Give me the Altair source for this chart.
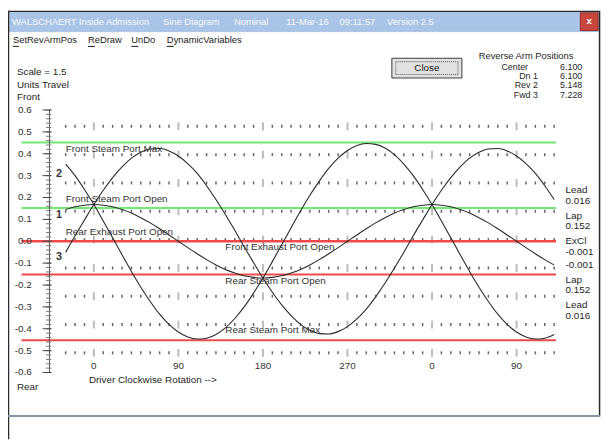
import altair as alt
import pandas as pd

# ---------------- data ----------------
theta = list(range(-30, 500, 10))  # crank angle, degrees

# curve 1 (Center / Dn 1)
curve1 = [0.145, 0.158, 0.165,
          0.168, 0.165, 0.158, 0.145, 0.129, 0.108, 0.084, 0.057, 0.029, 0.000,
          -0.029, -0.057, -0.084, -0.108, -0.129, -0.145, -0.158, -0.165, -0.168,
          -0.165, -0.158, -0.145, -0.129, -0.108, -0.084, -0.057, -0.029, 0.000,
          0.029, 0.057, 0.084, 0.108, 0.129, 0.145, 0.158, 0.165,
          0.168, 0.165, 0.158, 0.145, 0.129, 0.108, 0.084, 0.057, 0.029, 0.000,
          -0.029, -0.057, -0.084, -0.108]
# curve 2 (Rev 2)
curve2 = [0.353, 0.300, 0.237,
          0.168, 0.093, 0.016, -0.062, -0.138, -0.210, -0.275, -0.333, -0.380, -0.415,
          -0.438, -0.447, -0.443, -0.426, -0.396, -0.353, -0.300, -0.237, -0.168,
          -0.093, -0.016, 0.062, 0.138, 0.210, 0.275, 0.333, 0.380, 0.415,
          0.438, 0.447, 0.443, 0.426, 0.396, 0.353, 0.300, 0.237,
          0.168, 0.093, 0.016, -0.062, -0.138, -0.210, -0.275, -0.333, -0.380, -0.415,
          -0.438, -0.447, -0.443, -0.426]
# curve 3 (Fwd 3)
curve3 = [-0.050, 0.025, 0.097,
          0.168, 0.233, 0.291, 0.340, 0.380, 0.407, 0.422, 0.424, 0.413, 0.390,
          0.355, 0.310, 0.254, 0.191, 0.122, 0.050, -0.025, -0.097, -0.168,
          -0.233, -0.291, -0.340, -0.380, -0.407, -0.422, -0.424, -0.413, -0.390,
          -0.355, -0.310, -0.254, -0.191, -0.122, -0.050, 0.025, 0.097,
          0.168, 0.233, 0.291, 0.340, 0.380, 0.407, 0.422, 0.424, 0.413, 0.390,
          0.355, 0.310, 0.254, 0.191]
curve_names = ["1", "2", "3"]

# port event lines
line_values = [0.452, 0.152, 0.001, -0.001, -0.152, -0.452]
line_colors = ["#74e874", "#74e874", "#f04a4a", "#f04a4a", "#f04a4a", "#f04a4a"]
line_start, line_end = -77, 492
line_labels = ["Front Steam Port Max", "Front Steam Port Open", "Rear Exhaust Port Open",
               "Front Exhaust Port Open", "Rear Steam Port Open", "Rear Steam Port Max"]
label_theta = [-30, -30, -30, 140, 140, 140]
label_v = [0.423, 0.195, 0.042, -0.026, -0.181, -0.407]

# curve number labels
curve_label_theta = [-37, -37, -37]
curve_label_v = [0.120, 0.309, -0.074]

# dotted reference rows
row_values = [0.5255, 0.396, 0.2666, 0.137, 0.0077, -0.1218, -0.2512, -0.3807, -0.510]

# axes
y_ticks = [0.6, 0.5, 0.4, 0.3, 0.2, 0.1, 0.0, -0.1, -0.2, -0.3, -0.4, -0.5, -0.6]
y_tick_labels = ["0.6", "0.5", "0.4", "0.3", "0.2", "0.1", "0.0",
                 "-0.1", "-0.2", "-0.3", "-0.4", "-0.5", "-0.6"]
x_tick_values = [0, 90, 180, 270, 360, 450]
x_tick_labels = ["0", "90", "180", "270", "0", "90"]

arm_names = ["Center", "Dn 1", "Rev 2", "Fwd 3"]
arm_values = ["6.100", "6.100", "5.148", "7.228"]
side_labels = ["Lead", "0.016", "Lap", "0.152", "ExCl", "-0.001", "-0.001",
               "Lap", "0.152", "Lead", "0.016"]

title_parts = ["WALSCHAERT Inside Admission", "Sine Diagram", "Nominal",
               "11-Mar-16", "09:11:57", "Version 2.5"]
menu_items = ["SetRevArmPos", "ReDraw", "UnDo", "DynamicVariables"]

# ---------------- layout ----------------
W, H = 604, 434
FONT = "Liberation Sans"
xs = alt.Scale(domain=[-91.39, 543.07], nice=False, zero=False)
ys = alt.Scale(domain=[-0.9044, 1.0532], nice=False, zero=False)


def X(f):
    return alt.X(f, scale=xs, axis=None)


def Y(f):
    return alt.Y(f, scale=ys, axis=None)


def PX(f):
    return alt.X(f, scale=None, axis=None)


def PY(f):
    return alt.Y(f, scale=None, axis=None)


# ---- window chrome ----
rects = pd.DataFrame([
    dict(x=0, x2=599, y=1, y2=21, fill="#a9c4e6", stroke="#a9c4e6"),
    dict(x=580, x2=598, y=2, y2=20, fill="#c8463e", stroke="#9a2e28"),
    dict(x=389, x2=460, y=48, y2=68, fill="#e1e1e1", stroke="#3c3c3c"),
])
chrome_rect = alt.Chart(rects).mark_rect(strokeWidth=1).encode(
    x=PX("x:Q"), x2="x2:Q", y=PY("y:Q"), y2="y2:Q",
    fill=alt.Fill("fill:N", scale=None), stroke=alt.Stroke("stroke:N", scale=None))

focus = pd.DataFrame([dict(x=393, x2=456, y=51.5, y2=64.5)])
focus_rect = alt.Chart(focus).mark_rect(fill="transparent", stroke="#555", strokeDash=[1, 1],
                                        strokeWidth=1).encode(
    x=PX("x:Q"), x2="x2:Q", y=PY("y:Q"), y2="y2:Q")

borders = pd.DataFrame([
    dict(x=0.5, x2=0.5, y=0, y2=434, c="#2a2a2a", w=1.5),
    dict(x=0, x2=599, y=0.5, y2=0.5, c="#2a2a2a", w=1.5),
    dict(x=599.5, x2=599.5, y=0, y2=411, c="#2a2a2a", w=1.5),
    dict(x=0, x2=600, y=410.5, y2=410.5, c="#8797ab", w=2),
])
border_rules = alt.Chart(borders).mark_rule().encode(
    x=PX("x:Q"), x2="x2:Q", y=PY("y:Q"), y2="y2:Q",
    color=alt.Color("c:N", scale=None), strokeWidth=alt.StrokeWidth("w:Q", scale=None))

# ---- port lines ----
hl = pd.DataFrame({"v": line_values, "c": line_colors, "x0": line_start, "x1": line_end})
port_lines = alt.Chart(hl).mark_rule(strokeWidth=2).encode(
    x=X("x0:Q"), x2="x1:Q", y=Y("v:Q"), color=alt.Color("c:N", scale=None))

# ---- dotted rows ----
rows = pd.DataFrame([{"theta": t, "v": r, "major": (t % 90 == 0)}
                     for r in row_values for t in range(-30, 500, 10)])
row_minor = alt.Chart(rows).transform_filter("!datum.major").mark_tick(
    orient="vertical", size=3, thickness=1.5, color="#222").encode(x=X("theta:Q"), y=Y("v:Q"))
row_major = alt.Chart(rows).transform_filter("datum.major").mark_tick(
    orient="vertical", size=8, thickness=2, color="#a0a0a0").encode(x=X("theta:Q"), y=Y("v:Q"))

# ---- y ruler ----
ruler_df = pd.DataFrame({"v0": [0.6], "v1": [-0.6]})
ruler = alt.Chart(ruler_df).mark_rule(color="#555", strokeWidth=1).encode(
    x=alt.value(42), y=Y("v0:Q"), y2="v1:Q")
minor_v = [round(-0.6 + 0.02 * i, 2) for i in range(61)]
ruler_minor = alt.Chart(pd.DataFrame({"v": minor_v})).mark_rule(color="#777", strokeWidth=1).encode(
    x=alt.value(38.5), x2=alt.value(44), y=Y("v:Q"))
ruler_major = alt.Chart(pd.DataFrame({"v": y_ticks})).mark_rule(color="#444", strokeWidth=1).encode(
    x=alt.value(35), x2=alt.value(44), y=Y("v:Q"))
ylabels = alt.Chart(pd.DataFrame({"v": y_ticks, "t": y_tick_labels})).mark_text(
    align="right", baseline="middle", font=FONT, fontSize=10, color="#333").encode(
    x=alt.value(24), y=Y("v:Q"), text="t:N")

# ---- x labels ----
xlabels = alt.Chart(pd.DataFrame({"th": x_tick_values, "t": x_tick_labels})).mark_text(
    align="center", baseline="middle", font=FONT, fontSize=10, color="#333").encode(
    x=X("th:Q"), y=alt.value(360), text="t:N")

# ---- curves ----
curves = pd.DataFrame({
    "theta": theta * 3,
    "v": curve1 + curve2 + curve3,
    "curve": [curve_names[0]] * len(theta) + [curve_names[1]] * len(theta) + [curve_names[2]] * len(theta),
})
curve_lines = alt.Chart(curves).mark_line(color="#2a2a2a", strokeWidth=1.1, interpolate="monotone").encode(
    x=X("theta:Q"), y=Y("v:Q"), detail="curve:N")

curve_labels = alt.Chart(pd.DataFrame({"th": curve_label_theta, "v": curve_label_v, "t": curve_names})).mark_text(
    align="center", baseline="middle", font=FONT, fontSize=11, fontWeight="bold", color="#333").encode(
    x=X("th:Q"), y=Y("v:Q"), text="t:N")

port_labels = alt.Chart(pd.DataFrame({"th": label_theta, "v": label_v, "t": line_labels})).mark_text(
    align="left", baseline="middle", font=FONT, fontSize=10, color="#333").encode(
    x=X("th:Q"), y=Y("v:Q"), text="t:N")

# ---- pixel-placed UI texts ----
title_x = [4, 157, 229, 282, 336, 384]
title_df = pd.DataFrame({"x": title_x, "y": [11] * 6, "t": title_parts})
title_text = alt.Chart(title_df).mark_text(align="left", baseline="middle", font=FONT,
                                           fontSize=9.5, color="#f7faff").encode(
    x=PX("x:Q"), y=PY("y:Q"), text="t:N")

menu_df = pd.DataFrame({"x": [5, 81, 125, 161], "y": [30] * 4, "t": menu_items})
menu_text = alt.Chart(menu_df).mark_text(align="left", baseline="middle", font=FONT,
                                         fontSize=9.5, color="#1a1a1a").encode(
    x=PX("x:Q"), y=PY("y:Q"), text="t:N")
ul_df = pd.DataFrame({"x": [5, 81, 125, 161], "x2": [11, 88, 132, 168], "y": [36, 36, 36, 36]})
menu_ul = alt.Chart(ul_df).mark_rule(color="#1a1a1a", strokeWidth=1).encode(
    x=PX("x:Q"), x2="x2:Q", y=PY("y:Q"))

left_items = [("Scale = 1.5", 9, 62), ("Units Travel", 9, 75), ("Front", 9, 87), ("Rear", 9, 381),
              ("Driver Clockwise Rotation -->", 82, 374)]
side_y = [182, 193, 208, 218, 233, 244, 258, 273, 283, 298, 309]
left_items += [(s, 565, yy) for s, yy in zip(side_labels, side_y)]
left_df = pd.DataFrame(left_items, columns=["t", "x", "y"])
left_text = alt.Chart(left_df).mark_text(align="left", baseline="middle", font=FONT,
                                         fontSize=10, color="#262626").encode(
    x=PX("x:Q"), y=PY("y:Q"), text="t:N")

arm_head = alt.Chart(pd.DataFrame({"t": ["Reverse Arm Positions"], "x": [477], "y": [46]})).mark_text(
    align="left", baseline="middle", font=FONT, fontSize=9.5, color="#262626").encode(
    x=PX("x:Q"), y=PY("y:Q"), text="t:N")

arm_y = [56.5, 66, 75.5, 85]
right_items = [(n, 527 if i == 0 else 537, yy) for i, (n, yy) in enumerate(zip(arm_names, arm_y))]
right_items += [(v, 582, yy) for v, yy in zip(arm_values, arm_y)]
right_df = pd.DataFrame(right_items, columns=["t", "x", "y"])
right_text = alt.Chart(right_df).mark_text(align="right", baseline="middle", font=FONT,
                                           fontSize=9, color="#262626").encode(
    x=PX("x:Q"), y=PY("y:Q"), text="t:N")

close_df = pd.DataFrame({"t": ["Close"], "x": [424.5], "y": [58]})
close_text = alt.Chart(close_df).mark_text(align="center", baseline="middle", font=FONT,
                                           fontSize=10, color="#1a1a1a").encode(
    x=PX("x:Q"), y=PY("y:Q"), text="t:N")
xbtn_df = pd.DataFrame({"t": ["x"], "x": [589], "y": [10.5]})
xbtn_text = alt.Chart(xbtn_df).mark_text(align="center", baseline="middle", font=FONT,
                                         fontSize=10, fontWeight="bold", color="white").encode(
    x=PX("x:Q"), y=PY("y:Q"), text="t:N")

chart = alt.layer(
    chrome_rect, focus_rect, border_rules,
    row_minor, row_major, port_lines,
    ruler, ruler_minor, ruler_major, ylabels, xlabels,
    curve_lines, curve_labels, port_labels,
    title_text, menu_text, menu_ul, left_text, arm_head, right_text, close_text, xbtn_text,
).resolve_scale(
    x="independent", y="independent", color="independent", fill="independent",
    stroke="independent", strokeWidth="independent"
).properties(
    width=W, height=H, padding=0, autosize=alt.AutoSizeParams(type="none"), background="white"
).configure_view(stroke=None)

chart.save("out.html", embed_options={"renderer": "svg", "actions": False})
